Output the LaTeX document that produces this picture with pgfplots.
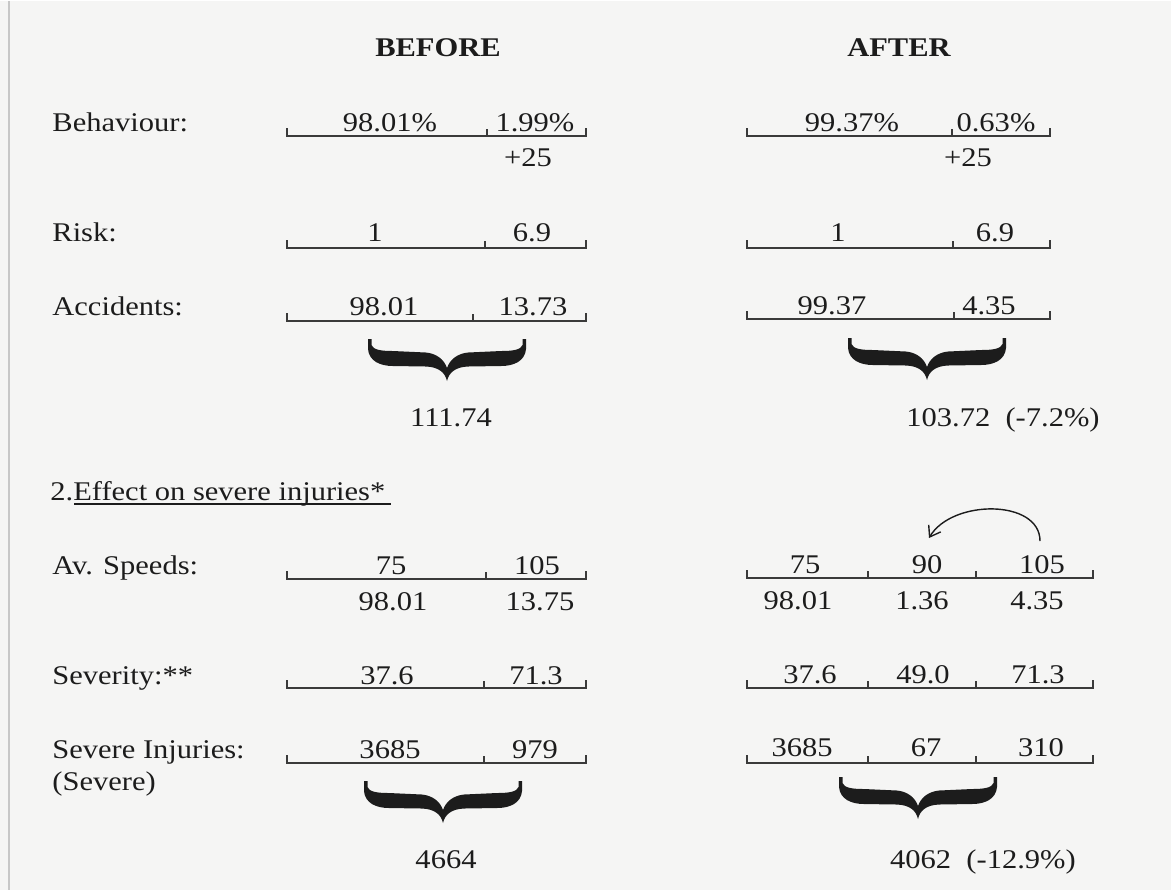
\documentclass[border=0pt]{standalone}
\usepackage{fontspec}
\setmainfont{Liberation Serif}[FakeStretch=1.13]
\usepackage{pgfplots}
\pgfplotsset{compat=1.18}
\usetikzlibrary{arrows.meta}
\definecolor{bg}{HTML}{F5F5F4}
\definecolor{ink}{HTML}{1C1C1C}
\definecolor{rule}{HTML}{3A3A3A}
\newcommand\f{\fontsize{13.5pt}{16pt}\selectfont}
% filled brace, 158 px wide, 42 px tall; #1 = left x, #2 = top y (axis units = px)
\newcommand\bigbrace[2]{%
  \fill[ink, shift={(axis cs:#1,#2)}, x=0.5pt, y=-0.5pt]
    (0,0) -- (3.5,0) -- (3.5,6) .. controls (5,11) and (14,12) .. (25,12)
    -- (58,13.5) .. controls (68,14.5) and (76,20) .. (79,29)
    .. controls (82,20) and (90,14.5) .. (100,13.5)
    -- (133,12) .. controls (144,12) and (153,11) .. (154.5,6)
    -- (154.5,0) -- (158,0) -- (158,10)
    .. controls (157,22) and (146,27) .. (133,27)
    -- (100,27.5) .. controls (88,28) and (81,33) .. (79,42)
    .. controls (77,33) and (70,28) .. (58,27.5)
    -- (25,27) .. controls (12,27) and (1,22) .. (0,10) -- cycle;}
\begin{document}
\begin{tikzpicture}[
  t/.style={font=\f, text=ink, inner sep=0pt, anchor=base},
  tl/.style={font=\f, text=ink, inner sep=0pt, anchor=base west}]
\begin{axis}[width=585.5pt, height=444.5pt, scale only axis,
  xmin=0, xmax=1171, ymin=0, ymax=889, y dir=reverse, hide axis, clip=false,
  sc/.style={color=rule, line width=1pt, mark=none, solid}]
\fill[bg] (axis cs:0,0) rectangle (axis cs:1171,889);
\draw[color=black!22, line width=1pt] (axis cs:9,0) -- (axis cs:9,889);

% ---------- BEFORE scales ----------
\addplot[sc] coordinates {(287,127) (287,135) (586,135) (586,127)};
\addplot[sc] coordinates {(487,135) (487,128)};
\addplot[sc] coordinates {(287,239) (287,247) (586,247) (586,239)};
\addplot[sc] coordinates {(485,247) (485,240)};
\addplot[sc] coordinates {(287,312) (287,320) (586,320) (586,312)};
\addplot[sc] coordinates {(473,320) (473,313)};
\addplot[sc] coordinates {(287,570) (287,578) (586,578) (586,570)};
\addplot[sc] coordinates {(486,578) (486,571)};
\addplot[sc] coordinates {(287,679) (287,687) (586,687) (586,679)};
\addplot[sc] coordinates {(484,687) (484,680)};
\addplot[sc] coordinates {(287,754) (287,762) (586,762) (586,754)};
\addplot[sc] coordinates {(484,762) (484,755)};

% ---------- AFTER scales ----------
\addplot[sc] coordinates {(747,127) (747,135) (1050,135) (1050,127)};
\addplot[sc] coordinates {(952,135) (952,128)};
\addplot[sc] coordinates {(747,239) (747,247) (1050,247) (1050,239)};
\addplot[sc] coordinates {(953,247) (953,240)};
\addplot[sc] coordinates {(747,310) (747,318) (1050,318) (1050,310)};
\addplot[sc] coordinates {(954,318) (954,311)};
\addplot[sc] coordinates {(747,569) (747,577) (1093,577) (1093,569)};
\addplot[sc] coordinates {(868,577) (868,570)};
\addplot[sc] coordinates {(976,577) (976,570)};
\addplot[sc] coordinates {(747,679) (747,687) (1093,687) (1093,679)};
\addplot[sc] coordinates {(868,687) (868,680)};
\addplot[sc] coordinates {(976,687) (976,680)};
\addplot[sc] coordinates {(747,754) (747,762) (1093,762) (1093,754)};
\addplot[sc] coordinates {(868,762) (868,755)};
\addplot[sc] coordinates {(976,762) (976,755)};

% ---------- titles ----------
\node[t, font=\f\bfseries] at (axis cs:438,55) {BEFORE};
\node[t, font=\f\bfseries] at (axis cs:899,55) {AFTER};

% ---------- labels ----------
\node[tl] at (axis cs:52,130) {Behaviour:};
\node[tl] at (axis cs:52,240) {Risk:};
\node[tl] at (axis cs:52,314) {Accidents:};
\node[tl] at (axis cs:50,499) {2.Effect on severe injuries*};
\draw[color=ink, line width=1pt] (axis cs:74,503) -- (axis cs:391,503);
\node[tl] at (axis cs:52,573) {Av. Speeds:};
\node[tl] at (axis cs:52,683) {Severity:**};
\node[tl] at (axis cs:52,757) {Severe Injuries:};
\node[tl] at (axis cs:52,789) {(Severe)};

% ---------- BEFORE values ----------
\node[t] at (axis cs:390,130) {98.01\%};
\node[t] at (axis cs:535,130) {1.99\%};
\node[t] at (axis cs:528,165) {+25};
\node[t] at (axis cs:375,240) {1};
\node[t] at (axis cs:532,240) {6.9};
\node[t] at (axis cs:384,314) {98.01};
\node[t] at (axis cs:533,314) {13.73};
\node[t] at (axis cs:451,425) {111.74};
\node[t] at (axis cs:391,573) {75};
\node[t] at (axis cs:537,573) {105};
\node[t] at (axis cs:393,609) {98.01};
\node[t] at (axis cs:540,609) {13.75};
\node[t] at (axis cs:387,683) {37.6};
\node[t] at (axis cs:536,683) {71.3};
\node[t] at (axis cs:390,757) {3685};
\node[t] at (axis cs:535,757) {979};
\node[t] at (axis cs:446,867) {4664};

% ---------- AFTER values ----------
\node[t] at (axis cs:852,130) {99.37\%};
\node[t] at (axis cs:996,130) {0.63\%};
\node[t] at (axis cs:968,165) {+25};
\node[t] at (axis cs:838,240) {1};
\node[t] at (axis cs:995,240) {6.9};
\node[t] at (axis cs:832,313) {99.37};
\node[t] at (axis cs:989,313) {4.35};
\node[t] at (axis cs:1003,425) {103.72\ \ (-7.2\%)};
\node[t] at (axis cs:805,572) {75};
\node[t] at (axis cs:927,572) {90};
\node[t] at (axis cs:1042,572) {105};
\node[t] at (axis cs:798,608) {98.01};
\node[t] at (axis cs:922,608) {1.36};
\node[t] at (axis cs:1037,608) {4.35};
\node[t] at (axis cs:810,682) {37.6};
\node[t] at (axis cs:923,682) {49.0};
\node[t] at (axis cs:1038,682) {71.3};
\node[t] at (axis cs:802,755) {3685};
\node[t] at (axis cs:926,755) {67};
\node[t] at (axis cs:1041,755) {310};
\node[t] at (axis cs:983,867) {4062\ \ (-12.9\%)};

% ---------- braces ----------
\bigbrace{368}{338}
\bigbrace{848}{337}
\bigbrace{364}{780}
\bigbrace{839}{776}

% ---------- arrow ----------
\draw[color=ink, line width=0.7pt, -{Straight Barb[length=5pt,width=7pt]}]
  (axis cs:1040,540) .. controls (axis cs:1040,498) and (axis cs:952,498) .. (axis cs:929,537);
\end{axis}
\end{tikzpicture}
\end{document}
